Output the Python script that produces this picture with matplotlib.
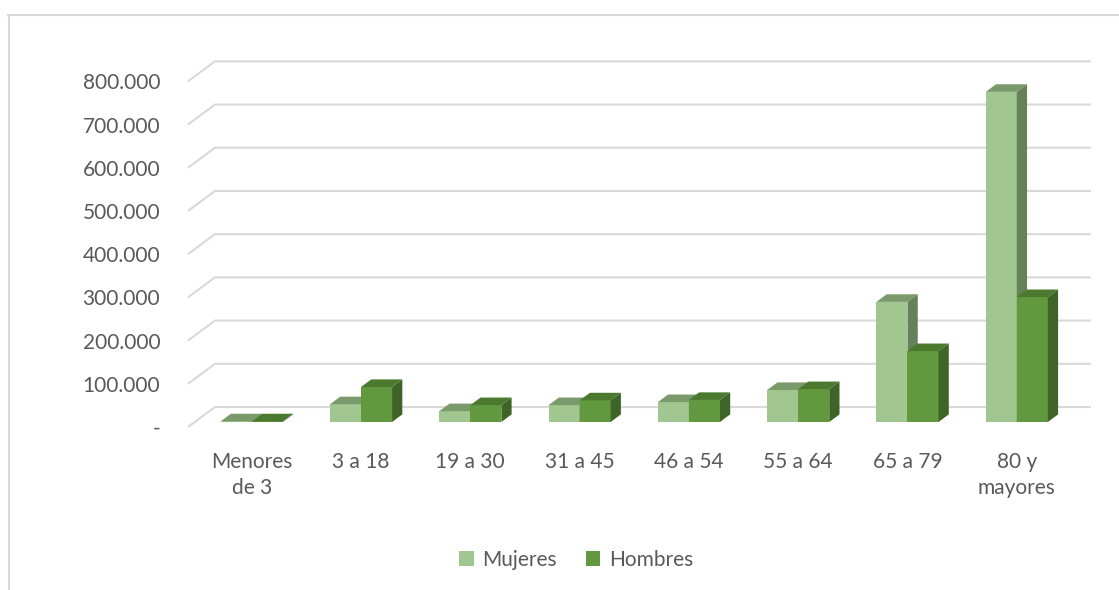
import matplotlib
matplotlib.use("Agg")
import matplotlib.pyplot as plt
from matplotlib.patches import Polygon, Patch
from matplotlib.lines import Line2D

categories = ["Menores\nde 3", "3 a 18", "19 a 30", "31 a 45", "46 a 54", "55 a 64", "65 a 79", "80 y\nmayores"]
mujeres = [1500, 41000, 25000, 39000, 46000, 74000, 278000, 764000]
hombres = [1500, 81000, 39000, 50000, 51000, 76000, 164000, 289000]
yticks = [0, 100000, 200000, 300000, 400000, 500000, 600000, 700000, 800000]

FONT = "Lato"
TXT = "#595959"
GRID = "#d9d9d9"
col_m = ("#a2c68f", "#7b9a6c", "#66805a")   # front, top, side
col_h = ("#62993e", "#4b7a2e", "#3e6428")

fig = plt.figure(figsize=(11.19, 5.90), dpi=100)
ax = fig.add_axes([188/1119, (590-427)/590, (1091-188)/1119, (427-61)/590])

XMIN, XMAX = -0.583, 7.679
YMAX = 847000
ax.set_xlim(XMIN, XMAX)
ax.set_ylim(0, YMAX)

# oblique depth of the whole floor/back wall (in data units)
DX = 0.247
DY = 46300
# bars placement within depth
B0 = 0.25           # depth fraction of bar front faces
BD = 0.38           # bar depth fraction
W = 0.284           # bar width

# back wall gridlines
for v in yticks:
    ax.plot([XMIN, XMIN + DX, XMAX], [v, v + DY, v + DY], color=GRID, lw=1.5,
            solid_capstyle="butt", zorder=1, clip_on=False)

def bar3d(x_left, val, cols, z):
    y0 = B0 * DY
    ax.bar(x_left, val, width=W, bottom=y0, align="edge", color=cols[0],
           edgecolor="none", zorder=z)
    dx, dy = BD * DX, BD * DY
    top = y0 + val
    ax.add_patch(Polygon([(x_left, top), (x_left + W, top), (x_left + W + dx, top + dy),
                          (x_left + dx, top + dy)], closed=True, facecolor=cols[1],
                         edgecolor="none", zorder=z))
    ax.add_patch(Polygon([(x_left + W, y0), (x_left + W + dx, y0 + dy),
                          (x_left + W + dx, top + dy), (x_left + W, top)], closed=True,
                         facecolor=cols[2], edgecolor="none", zorder=z))

for i, (m, h) in enumerate(zip(mujeres, hombres)):
    bar3d(i - W, m, col_m, 2 + i * 2)
    bar3d(i, h, col_h, 3 + i * 2)

ax.set_yticks(yticks)
ax.set_yticklabels(["-" if v == 0 else f"{v:,}".replace(",", ".") for v in yticks],
                   fontfamily=FONT, fontsize=15, color=TXT)
ax.set_xticks(range(len(categories)))
ax.set_xticklabels(categories, fontfamily=FONT, fontsize=15, color=TXT, linespacing=1.4)
ax.tick_params(axis="y", length=0, pad=20)
ax.tick_params(axis="x", length=0, pad=18)
for s in ax.spines.values():
    s.set_visible(False)

handles = [Patch(facecolor=col_m[0], label="Mujeres"), Patch(facecolor=col_h[0], label="Hombres")]
fig.legend(handles=handles, loc="center", bbox_to_anchor=(576/1119, 1 - 560/590), ncol=2,
           frameon=False, prop={"family": FONT, "size": 15}, labelcolor=TXT,
           handlelength=0.7, handleheight=0.7, handletextpad=0.4, columnspacing=1.4)

# chart border
fig.add_artist(Line2D([8/1119, 1.0], [1 - 15/590, 1 - 15/590], color=GRID, lw=1.5))
fig.add_artist(Line2D([9/1119, 9/1119], [1 - 15/590, 0.0], color=GRID, lw=1.5))

fig.savefig("out.png", dpi=100)
